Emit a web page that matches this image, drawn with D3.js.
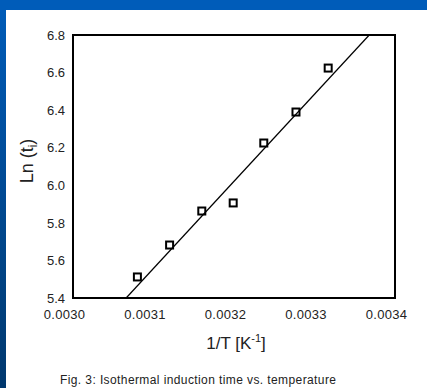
<!DOCTYPE html>
<html>
<head>
<meta charset="utf-8">
<script src="https://cdn.jsdelivr.net/npm/d3@7"></script>
<style>
  body { margin: 0; padding: 0; }
  svg { display: block; font-family: "Liberation Sans", Arial, sans-serif; }
</style>
</head>
<body>
<script>
// measured points: 1/T [K^-1] and ln(t_i)
var invT = [0.003080, 0.003120, 0.003160, 0.003199, 0.003237, 0.003277, 0.003317];
var lnTi = [5.512, 5.682, 5.863, 5.906, 6.225, 6.390, 6.624];

// linear fit line end points
var fitX = [0.003066, 0.003368];
var fitY = [5.4, 6.8];

var xTicks = [0.0030, 0.0031, 0.0032, 0.0033, 0.0034];
var yTicks = [5.4, 5.6, 5.8, 6.0, 6.2, 6.4, 6.6, 6.8];

var width = 427, height = 388;

var svg = d3.select("body")
    .append("svg")
    .attr("width", width)
    .attr("height", height);

// blue frame of the slide
var grad = svg.append("defs").append("linearGradient")
    .attr("id", "side")
    .attr("x1", 0).attr("y1", 0).attr("x2", 0).attr("y2", 1);
grad.append("stop").attr("offset", "0%").attr("stop-color", "#005cb9");
grad.append("stop").attr("offset", "100%").attr("stop-color", "#00386e");

svg.append("rect").attr("width", width).attr("height", height).attr("fill", "white");
svg.append("rect").attr("x", 0).attr("y", 0).attr("width", 6).attr("height", height).attr("fill", "url(#side)");
svg.append("rect").attr("x", 0).attr("y", 0).attr("width", width).attr("height", 10).attr("fill", "#005cb9");

var plot = { left: 73, right: 395, top: 35, bottom: 298 };

var x = d3.scaleLinear().domain([0.0030, 0.0034]).range([plot.left, plot.right]);
var y = d3.scaleLinear().domain([5.4, 6.8]).range([plot.bottom, plot.top]);

// y axis labels
svg.append("g")
    .attr("transform", `translate(${plot.left},0)`)
    .call(d3.axisLeft(y).tickValues(yTicks).tickFormat(d3.format(".1f")).tickSize(0).tickPadding(8))
    .call(g => g.select(".domain").remove())
    .selectAll("text")
    .attr("font-size", 13)
    .attr("fill", "#222");

// x axis labels (shifted a little to the left as in the original)
svg.append("g")
    .attr("transform", `translate(-9,${plot.bottom})`)
    .call(d3.axisBottom(x).tickValues(xTicks).tickFormat(d3.format(".4f")).tickSize(0).tickPadding(12))
    .call(g => g.select(".domain").remove())
    .selectAll("text")
    .attr("font-size", 13)
    .attr("letter-spacing", 0.3)
    .attr("fill", "#222");

// fit line
var line = d3.line().x(d => x(d[0])).y(d => y(d[1]));
svg.append("path")
    .attr("d", line(d3.zip(fitX, fitY)))
    .attr("fill", "none")
    .attr("stroke", "black")
    .attr("stroke-width", 1.2);

// markers
svg.append("g")
    .selectAll("rect")
    .data(d3.zip(invT, lnTi))
    .enter()
    .append("rect")
    .attr("x", d => x(d[0]) - 3.5)
    .attr("y", d => y(d[1]) - 3.5)
    .attr("width", 7)
    .attr("height", 7)
    .attr("fill", "none")
    .attr("stroke", "black")
    .attr("stroke-width", 2);

// plot frame
svg.append("rect")
    .attr("x", plot.left)
    .attr("y", plot.top)
    .attr("width", plot.right - plot.left)
    .attr("height", plot.bottom - plot.top)
    .attr("fill", "none")
    .attr("stroke", "black")
    .attr("stroke-width", 2);

// axis titles
var xt = svg.append("text")
    .attr("x", 236)
    .attr("y", 349)
    .attr("text-anchor", "middle")
    .attr("font-size", 17)
    .attr("fill", "#222");
xt.append("tspan").text("1/T [K");
xt.append("tspan").attr("font-size", 11).attr("dy", -7).text("-1");
xt.append("tspan").attr("dy", 7).text("]");

var yt = svg.append("text")
    .attr("transform", "translate(33,161) rotate(-90)")
    .attr("text-anchor", "middle")
    .attr("font-size", 18)
    .attr("fill", "#222");
yt.append("tspan").text("Ln (t");
yt.append("tspan").attr("font-size", 12).attr("dy", 4).text("i");
yt.append("tspan").attr("dy", -4).text(")");

svg.append("text")
    .attr("x", 60)
    .attr("y", 384)
    .attr("font-size", 12)
    .attr("letter-spacing", 0.4)
    .attr("fill", "#222")
    .text("Fig. 3: Isothermal induction time vs. temperature");
</script>
</body>
</html>
